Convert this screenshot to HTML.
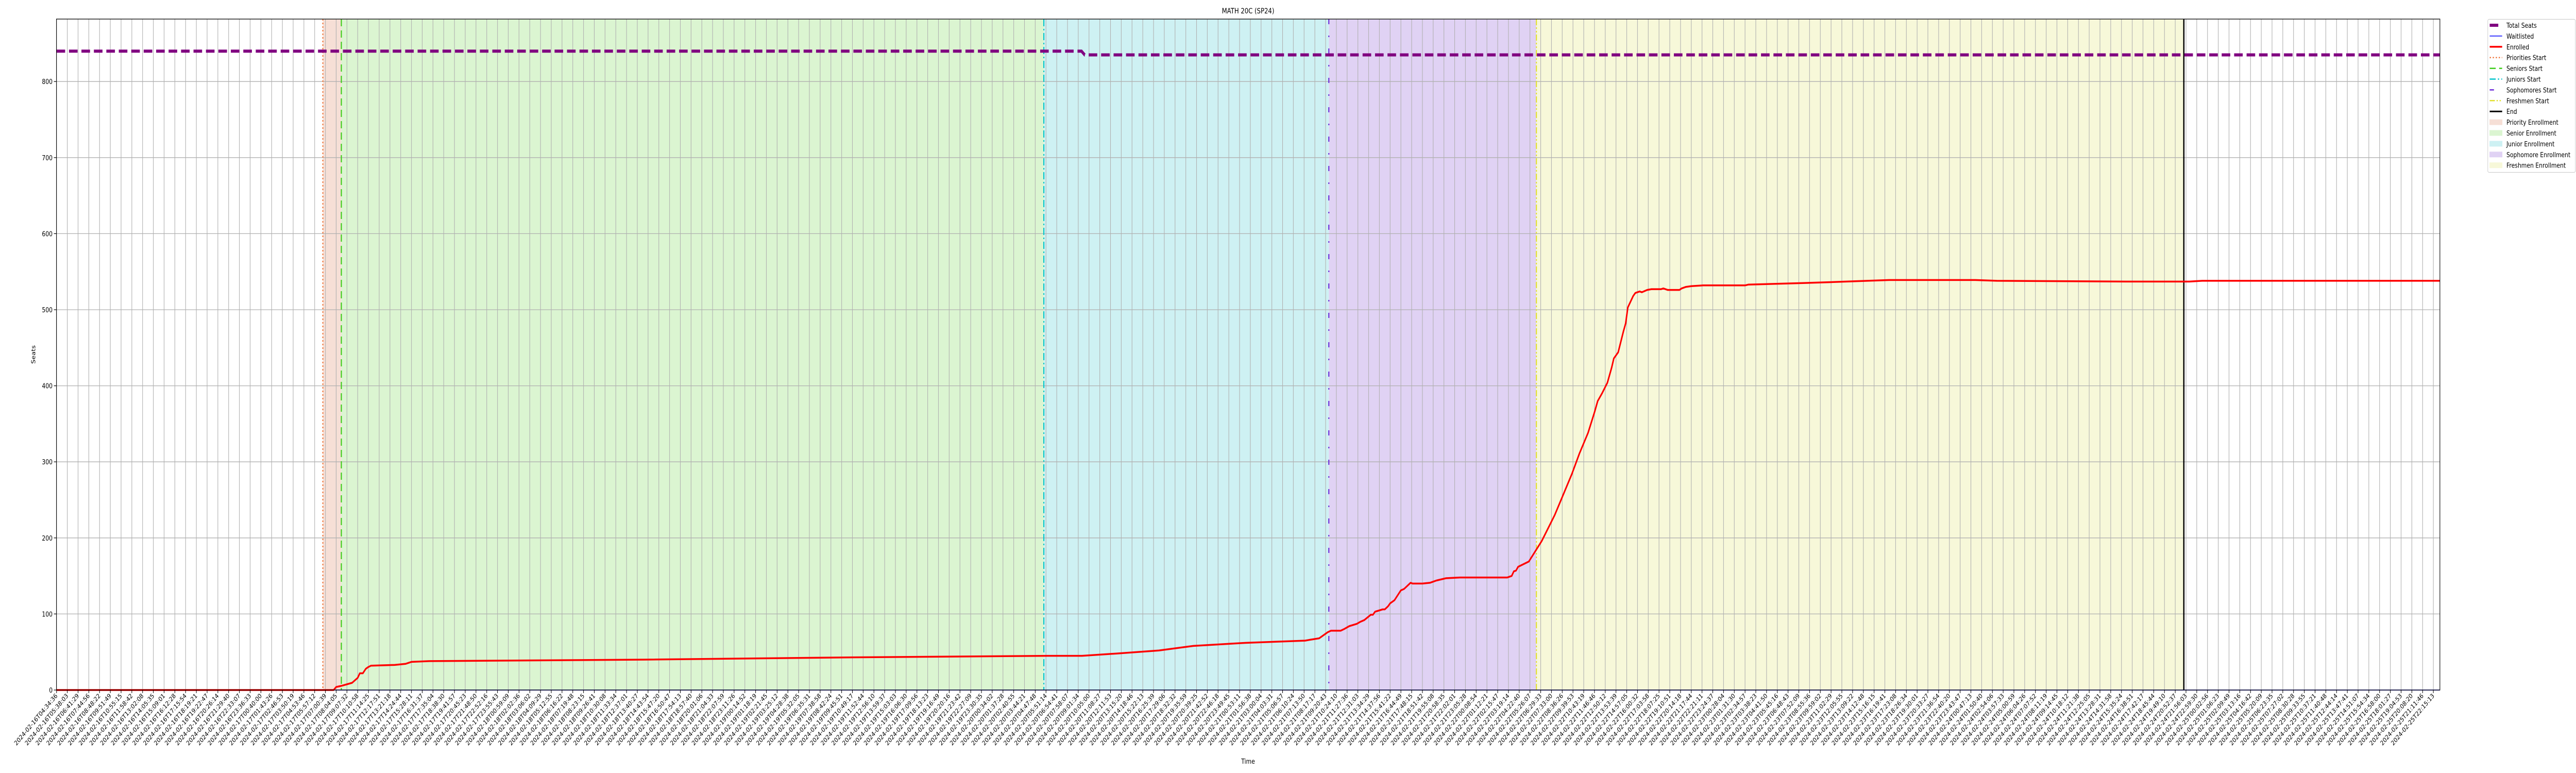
<!DOCTYPE html>
<html><head><meta charset="utf-8"><title>MATH 20C (SP24)</title>
<style>
html,body{margin:0;padding:0;background:#fff;width:100vw;height:100vh;overflow:hidden;}
svg{display:block;font-family:"DejaVu Sans","Liberation Sans",sans-serif;width:100vw;height:100vh;}
</style></head>
<body>
<svg id="chart" viewBox="0 0 6000 1500" preserveAspectRatio="none" xmlns="http://www.w3.org/2000/svg">
<rect x="0" y="0" width="6000" height="1500" fill="#fff"/>
<g id="spans"></g>
<g id="grid"></g>
<g id="vlines"></g>
<g id="series"></g>
<g id="axes"></g>
<text x="2907" y="26" text-anchor="middle" font-size="14" fill="#000">MATH 20C (SP24)</text>
<text x="2907" y="1482" text-anchor="middle" font-size="13" fill="#000">Time</text>
<text transform="translate(82,688) rotate(-90)" text-anchor="middle" font-size="13" fill="#000">Seats</text>
<g id="legend"></g>
</svg>
<script>
// ---- data ----
const enrolledT = [0,25.76,26.0,26.48,27.48,28.0,28.2,28.48,28.76,28.96,29.23,31.47,32.47,32.99,34.66,54.62,74.58,92.55,95.34,98.53,102.5,105.7,110.5,116.1,116.5,117.4,118.2,118.5,119.4,119.7,120.2,120.9,121.2,121.6,122.2,122.4,122.6,123.3,123.5,123.8,124.0,124.4,125.0,125.3,125.9,126.1,127.0,127.7,128.3,129.2,130.5,134.9,135.3,135.5,135.7,135.9,136.9,138.1,139.3,140.1,140.9,141.6,142.4,143.0,143.3,143.7,144.2,144.6,144.8,145.2,145.7,145.9,146.1,146.6,146.8,147.2,147.4,147.9,148.3,149.2,149.4,149.8,150.9,151.1,151.5,152.0,153.1,157.0,157.3,162.4,166.4,170.4,178.4,180.4,192.4,198.3,199.5,221.6];
const enrolledV = [0,0,4,5.5,9.5,16,22,22,28,30,32,33,34.5,37,38,40,43,45,45,48,52,58,62,65,66,68,76,78,78,80,84,87,89.5,92,99,99,103,106,106,110,114,118,131,133,141,140,140,141,144,147,148,148,150,156,157,162,169,196,230,257,284,311,338,365,380,390,404,424,436,444,472,482,503,518,522,524,523,526,527,527,528,526,526,528,530,531,532,532,533,535,537,539,539,538,537,537,538,538];
const seatsT = [0,95.3,95.6,221.6];
const seatsV = [840,840,835,835];
const waitT = [0,221.6];
const waitV = [0,0];
const phaseNames = ["Priorities Start","Seniors Start","Juniors Start","Sophomores Start","Freshmen Start","End"];
const phaseT = [24.76,26.48,91.8,118.3,137.6,197.8];
const spanNames = ["Priority Enrollment","Senior Enrollment","Junior Enrollment","Sophomore Enrollment","Freshmen Enrollment"];
const yTicks = [0,100,200,300,400,500,600,700,800];
const tickStart = "2024-02-16T04:34:36";
const tickCount = 222;
const tickStepSec = 3806.5;

// ---- axes ----
const X0=131.7, DX=25.05, Y0=1339, KY=1.476, LEFT=131.5, RIGHT=5683, TOP=37, BOT=1339;
const xS = t => X0 + t*DX;
const yS = v => Y0 - v*KY;
const NS="http://www.w3.org/2000/svg";
function mk(tag, attrs, parent){const e=document.createElementNS(NS,tag);for(const k in attrs)e.setAttribute(k,attrs[k]);parent.appendChild(e);return e;}
const pad=n=>String(n).padStart(2,'0');
const tickLabels=[];
{const base=Date.UTC(2024,1,16,4,34,36);
 for(let i=0;i<tickCount;i++){const d=new Date(base+Math.round(i*tickStepSec)*1000);
  tickLabels.push(d.getUTCFullYear()+"-"+pad(d.getUTCMonth()+1)+"-"+pad(d.getUTCDate())+"T"+pad(d.getUTCHours())+":"+pad(d.getUTCMinutes())+":"+pad(d.getUTCSeconds()));}}

const spanColors=["#f6dfd6","#dbf5d1","#cef1f3","#e0d2f4","#f7f8d9"];
const lineColors=["#f07a40","#3ccc18","#00c4cc","#6a28d8","#e2e030","#000"];
const lineDash=["3,4","14,8","14,5,3,5","10,22,3,22","12,4,3,4,3,4","none"];

const spans=document.getElementById('spans');
for(let i=0;i<spanNames.length;i++){
  const r=mk('rect',{x:xS(phaseT[i]),y:TOP,width:xS(phaseT[i+1])-xS(phaseT[i]),height:BOT-TOP,fill:spanColors[i]},spans);
  
  
}
const grid=document.getElementById('grid');
const axes=document.getElementById('axes');
for(let i=0;i<tickCount;i++){
  const x=xS(i);
  const g=mk('line',{x1:x,x2:x,y1:TOP,y2:BOT,stroke:"#b0b0b0","stroke-width":1.3},grid);
  
  
  const tk=mk('line',{x1:x,x2:x,y1:BOT,y2:BOT+6,stroke:"#000","stroke-width":1.2},axes);
  
  
  const tx=mk('text',{transform:`translate(${x+3},${BOT+12}) rotate(-45)`,"text-anchor":"end","font-size":12.5,fill:"#000"},axes);
  tx.textContent=tickLabels[i];
  
  
}
yTicks.forEach(v=>{
  const y=yS(v);
  const g=mk('line',{x1:LEFT,x2:RIGHT,y1:y,y2:y,stroke:"#b0b0b0","stroke-width":1.3},grid);
  
  
  const tk=mk('line',{x1:LEFT-6,x2:LEFT,y1:y,y2:y,stroke:"#000","stroke-width":1.2},axes);
  
  
  const tx=mk('text',{x:LEFT-9,y:y+5,"text-anchor":"end","font-size":13,fill:"#000"},axes);
  tx.textContent=String(v);
  
  
});
const frame=mk('rect',{x:LEFT,y:TOP,width:RIGHT-LEFT,height:BOT-TOP,fill:"none",stroke:"#000","stroke-width":1.3},axes);



const vl=document.getElementById('vlines');
phaseT.forEach((t,i)=>{
  const a={x1:xS(t),x2:xS(t),y1:TOP,y2:BOT,stroke:lineColors[i],"stroke-width":i===5?3:2.5};
  if(lineDash[i]!=="none")a["stroke-dasharray"]=lineDash[i];
  const l=mk('line',a,vl);
  
  
});

const ser=document.getElementById('series');
function pts(T,V){return T.map((t,i)=>xS(t).toFixed(1)+","+yS(V[i]).toFixed(1)).join(" ");}
const wl=mk('polyline',{points:pts(waitT,waitV),fill:"none",stroke:"#0000ff","stroke-width":1.5},ser);


const el=mk('polyline',{points:pts(enrolledT,enrolledV),fill:"none",stroke:"#ff0000","stroke-width":3.5,"stroke-linejoin":"round"},ser);


const sl=mk('polyline',{points:pts(seatsT,seatsV),fill:"none",stroke:"#800080","stroke-width":6,"stroke-dasharray":"20,9"},ser);



// ---- legend ----
const lg=document.getElementById('legend');
const box=mk('rect',{x:5794.5,y:37.5,width:204,height:297,rx:3,fill:"#fff",stroke:"#d0d0d0","stroke-width":1.2},lg);


const entries=[["Total Seats","line","#800080",6,"none"],["Waitlisted","line","#0000ff",1.5,"none"],["Enrolled","line","#ff0000",3.5,"none"]];
phaseNames.forEach((n,i)=>entries.push([n,"line",lineColors[i],i===5?3:2.5,lineDash[i]]));
spanNames.forEach((n,i)=>entries.push([n,"patch",spanColors[i]]));
entries.forEach((e,i)=>{
  const y=49+i*20.9;
  const g=mk('g',{},lg);
  
  
  if(e[1]==="line"){
    const a={x1:5799,x2:5828,y1:y,y2:y,stroke:e[2],"stroke-width":e[3]};
    if(e[4]!=="none")a["stroke-dasharray"]=e[4];
    if(i===0){a.x2=5819;}
    mk('line',a,g);
  } else {
    mk('rect',{x:5799,y:y-5,width:29,height:10,fill:e[2],stroke:e[2]},g);
  }
  const t=mk('text',{x:5838,y:y+5,"font-size":13,fill:"#000"},g);
  t.textContent=e[0];
});
</script>
</body></html>
